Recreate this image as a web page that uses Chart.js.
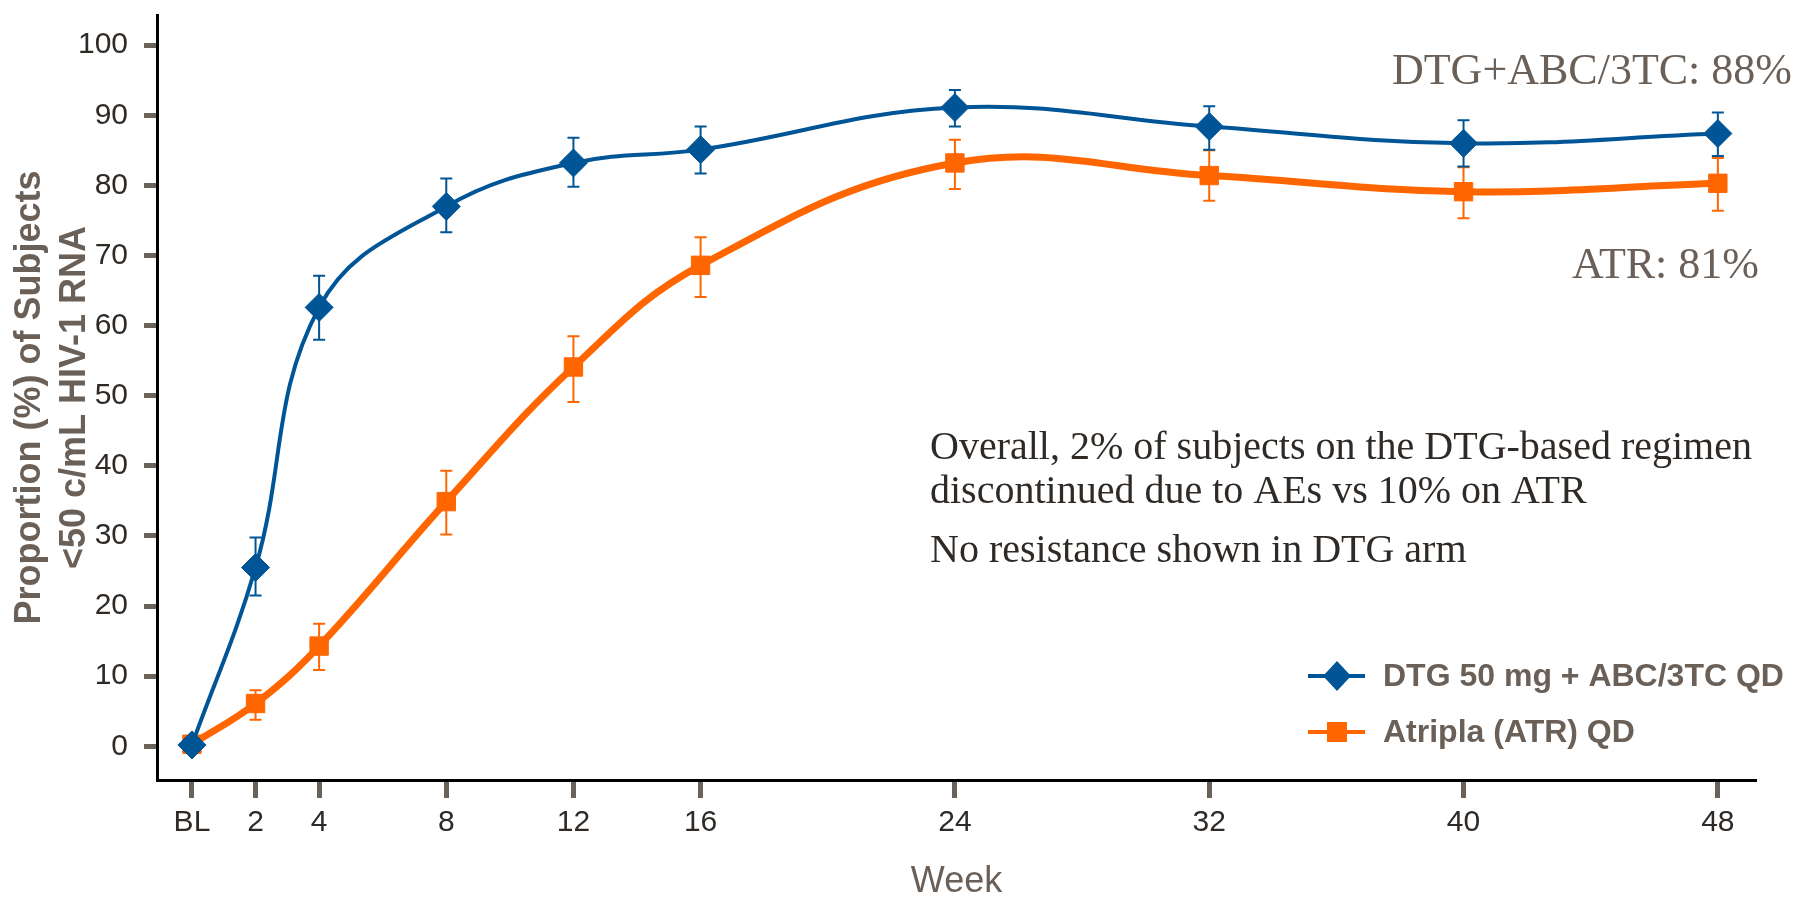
<!DOCTYPE html>
<html>
<head>
<meta charset="utf-8">
<title>Proportion of subjects &lt;50 c/mL HIV-1 RNA</title>
<script src="https://cdn.jsdelivr.net/npm/chart.js@4.4.1/dist/chart.umd.min.js"></script>
<style>
  html, body { margin: 0; padding: 0; background: #fff; }
  #wrap { position: relative; width: 1797px; height: 897px; }
</style>
</head>
<body>
<div id="wrap"><canvas id="chart"></canvas></div>
<script>
// weeks on study, BL = week 0
const weeks = [0, 2, 4, 8, 12, 16, 24, 32, 40, 48];
const weekTicks = [0, 2, 4, 8, 12, 16, 24, 32, 40, 48];
const yTicks = [0, 10, 20, 30, 40, 50, 60, 70, 80, 90, 100];

const dtgLabel = 'DTG 50 mg + ABC/3TC QD';
const dtgValues = [0.2, 25.5, 62.6, 77.0, 83.2, 85.1, 91.1, 88.4, 86.0, 87.4];
const dtgUpper = [null, 29.8, 67.1, 81.0, 86.8, 88.4, 93.6, 91.3, 89.3, 90.4];
const dtgLower = [null, 21.5, 58.0, 73.3, 79.8, 81.7, 88.4, 85.1, 82.7, 84.2];

const atrLabel = 'Atripla (ATR) QD';
const atrValues = [0.3, 6.1, 14.3, 34.9, 54.1, 68.6, 83.2, 81.4, 79.1, 80.3];
const atrUpper = [null, 8.0, 17.5, 39.3, 58.5, 72.6, 86.5, 85.0, 82.6, 83.9];
const atrLower = [null, 3.8, 10.9, 30.2, 49.1, 64.1, 79.5, 77.8, 75.3, 76.4];

const endLabels = ['DTG+ABC/3TC: 88%', 'ATR: 81%'];
const noteLines = [
  'Overall, 2% of subjects on the DTG-based regimen',
  'discontinued due to AEs vs 10% on ATR',
  'No resistance shown in DTG arm'
];

const BLUE = '#005596';
const ORANGE = '#ff6600';
const BROWN = '#6b6058';
const DARK = '#2f2a26';
const SANS = '"Liberation Sans", Arial, sans-serif';
const SERIF = '"Liberation Serif", "Times New Roman", serif';

// error bars under the lines
const errorBars = {
  id: 'errorBars',
  beforeDatasetsDraw(chart) {
    const { ctx, scales: { x, y } } = chart;
    const sets = [
      [atrLower, atrUpper, ORANGE],
      [dtgLower, dtgUpper, BLUE]
    ];
    ctx.save();
    ctx.lineWidth = 2;
    sets.forEach(([lo, hi, color]) => {
      ctx.strokeStyle = color;
      weeks.forEach((w, i) => {
        if (lo[i] == null) return;
        const px = x.getPixelForValue(w);
        const top = y.getPixelForValue(hi[i]);
        const bot = y.getPixelForValue(lo[i]);
        ctx.beginPath();
        ctx.moveTo(px, top); ctx.lineTo(px, bot);
        ctx.moveTo(px - 6, top); ctx.lineTo(px + 6, top);
        ctx.moveTo(px - 6, bot); ctx.lineTo(px + 6, bot);
        ctx.stroke();
      });
    });
    ctx.restore();
  }
};

// legend + text notes
const annotations = {
  id: 'annotations',
  afterDraw(chart) {
    const ctx = chart.ctx;
    ctx.save();

    // legend
    const rows = [
      { label: dtgLabel, color: BLUE, y: 676, shape: 'diamond' },
      { label: atrLabel, color: ORANGE, y: 732, shape: 'square' }
    ];
    rows.forEach(r => {
      ctx.strokeStyle = r.color;
      ctx.fillStyle = r.color;
      ctx.lineWidth = 4;
      ctx.beginPath();
      ctx.moveTo(1308, r.y); ctx.lineTo(1365, r.y);
      ctx.stroke();
      ctx.beginPath();
      if (r.shape === 'diamond') {
        ctx.moveTo(1337, r.y - 15); ctx.lineTo(1351, r.y);
        ctx.lineTo(1337, r.y + 15); ctx.lineTo(1323, r.y);
        ctx.closePath();
      } else {
        ctx.rect(1327, r.y - 10, 20, 20);
      }
      ctx.fill();
      ctx.fillStyle = BROWN;
      ctx.font = 'bold 32px ' + SANS;
      ctx.textAlign = 'left';
      ctx.textBaseline = 'middle';
      ctx.fillText(r.label, 1383, r.y + 1);
    });

    // end-of-study labels
    ctx.fillStyle = BROWN;
    ctx.font = '44px ' + SERIF;
    ctx.textAlign = 'right';
    ctx.textBaseline = 'middle';
    ctx.fillText(endLabels[0], 1792, 72);
    ctx.fillText(endLabels[1], 1759, 266);

    // notes
    ctx.fillStyle = DARK;
    ctx.font = '40px ' + SERIF;
    ctx.textAlign = 'left';
    ctx.fillText(noteLines[0], 930, 448);
    ctx.fillText(noteLines[1], 930, 492);
    ctx.fillText(noteLines[2], 930, 551);

    ctx.restore();
  }
};

new Chart(document.getElementById('chart'), {
  type: 'line',
  data: {
    datasets: [
      {
        label: dtgLabel,
        data: weeks.map((w, i) => ({ x: w, y: dtgValues[i] })),
        borderColor: BLUE,
        backgroundColor: BLUE,
        borderWidth: 4,
        tension: 0.4,
        pointStyle: 'rectRot',
        pointRadius: 14,
        pointBorderWidth: 1,
        pointBackgroundColor: BLUE,
        pointBorderColor: BLUE
      },
      {
        label: atrLabel,
        data: weeks.map((w, i) => ({ x: w, y: atrValues[i] })),
        borderColor: ORANGE,
        backgroundColor: ORANGE,
        borderWidth: 7,
        tension: 0.4,
        pointStyle: 'rect',
        pointRadius: 13,
        pointBorderWidth: 1,
        pointBackgroundColor: ORANGE,
        pointBorderColor: ORANGE
      }
    ]
  },
  options: {
    responsive: true,
    maintainAspectRatio: false,
    animation: false,
    layout: { padding: { top: 12, right: 41, left: 0, bottom: 0 } },
    plugins: {
      legend: { display: false },
      tooltip: { enabled: false }
    },
    scales: {
      x: {
        type: 'linear',
        min: -1.1,
        max: 49.2,
        afterBuildTicks: axis => { axis.ticks = weekTicks.map(v => ({ value: v })); },
        afterFit: scale => {
          scale.height = 117;
          scale.paddingLeft = 0;
          scale.paddingRight = 0;
        },
        border: { display: true, color: '#000', width: 3 },
        grid: { drawOnChartArea: false, drawTicks: true, tickLength: 18, tickColor: '#6b625a', tickWidth: 5 },
        ticks: {
          padding: 7,
          color: DARK,
          font: { family: SANS, size: 30 },
          callback: v => (v === 0 ? 'BL' : String(v))
        },
        title: {
          display: true,
          text: 'Week',
          color: BROWN,
          font: { family: SANS, size: 36, lineHeight: 0.85 },
          padding: { top: 0, bottom: 0 }
        }
      },
      y: {
        min: -4.8,
        max: 104.3,
        afterBuildTicks: axis => { axis.ticks = yTicks.map(v => ({ value: v })); },
        afterFit: scale => {
          scale.width = 157;
          scale.paddingTop = 0;
          scale.paddingBottom = 0;
        },
        border: { display: true, color: '#000', width: 3 },
        grid: { drawOnChartArea: false, drawTicks: true, tickLength: 13, tickColor: '#6b625a', tickWidth: 5 },
        ticks: {
          padding: 16,
          color: DARK,
          font: { family: SANS, size: 30 }
        },
        title: {
          display: true,
          text: ['Proportion (%) of Subjects', '<50 c/mL HIV-1 RNA'],
          color: BROWN,
          font: { family: SANS, size: 36, weight: 'bold', lineHeight: 1.25 },
          padding: { top: 8, bottom: 0 }
        }
      }
    }
  },
  plugins: [errorBars, annotations]
});
</script>
</body>
</html>
